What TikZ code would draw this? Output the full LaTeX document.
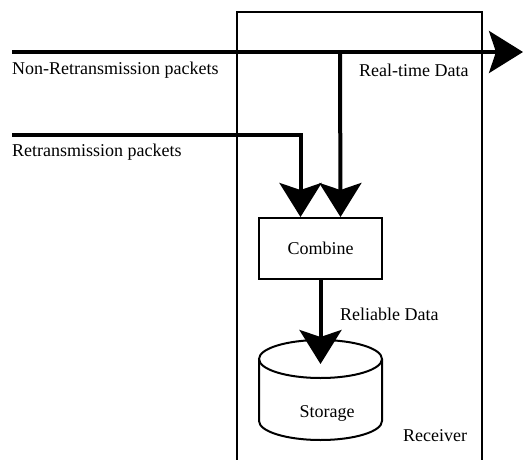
\documentclass[tikz,border=0pt]{standalone}
\usepackage{fontspec}
\setmainfont{Liberation Serif}
\usetikzlibrary{positioning, arrows.meta}

\tikzset{
	flow/.style = {line width=4pt, -{Stealth[length=34pt, width=42pt, inset=7pt]}},
	lbl/.style = {inner sep=0pt, font=\fontsize{18}{20}\selectfont},
	blockbox/.style = {draw, line width=2pt, minimum width=123pt, minimum height=61pt, inner sep=0pt, font=\fontsize{18}{20}\selectfont}
}

\begin{document}
\begin{tikzpicture}[x=1pt, y=-1pt]

\useasboundingbox (0,0) rectangle (525,460);

%---------RECEIVER-----------%
\draw [line width=2pt] (237,460) -- (237,12) -- (482,12) -- (482,460);
\node [lbl] (receiver) at (435,436) {Receiver};

%---------BLOCKS-----------%
\node [blockbox] (combine) at (320.5,248.5) {Combine};

\draw [line width=2pt] (259,359) -- (259,421) arc (180:0:61.5 and 19) -- (382,359);
\draw [line width=2pt] (320.5,359) ellipse (61.5 and 19);
\node [lbl] (storage) at (327,413) {Storage};
\coordinate (storetop) at (320.5,364);

%---------INPUTS-----------%
\coordinate (nrin) at (12,52);
\coordinate (rtout) at (523,52);
\coordinate (tap) at (340,52);
\coordinate (rin) at (12,135);

\draw [flow] (nrin) -- (rtout);
\draw [flow] (tap) -- ([xshift=20pt]combine.north);
\draw [flow] (rin) -| ([xshift=-20pt]combine.north);
\draw [flow] (combine.south) -- (storetop);

%--------LABELS-----------%
\node [lbl, anchor=west] (nrlabel) at (12,70) {Non-Retransmission packets};
\node [lbl, anchor=west] (rtlabel) at (359,70) {Real-time Data};
\node [lbl, anchor=west] (rlabel) at (12,152) {Retransmission packets};
\node [lbl, anchor=west] (rdlabel) at (340,314) {Reliable Data};

\end{tikzpicture}
\end{document}
